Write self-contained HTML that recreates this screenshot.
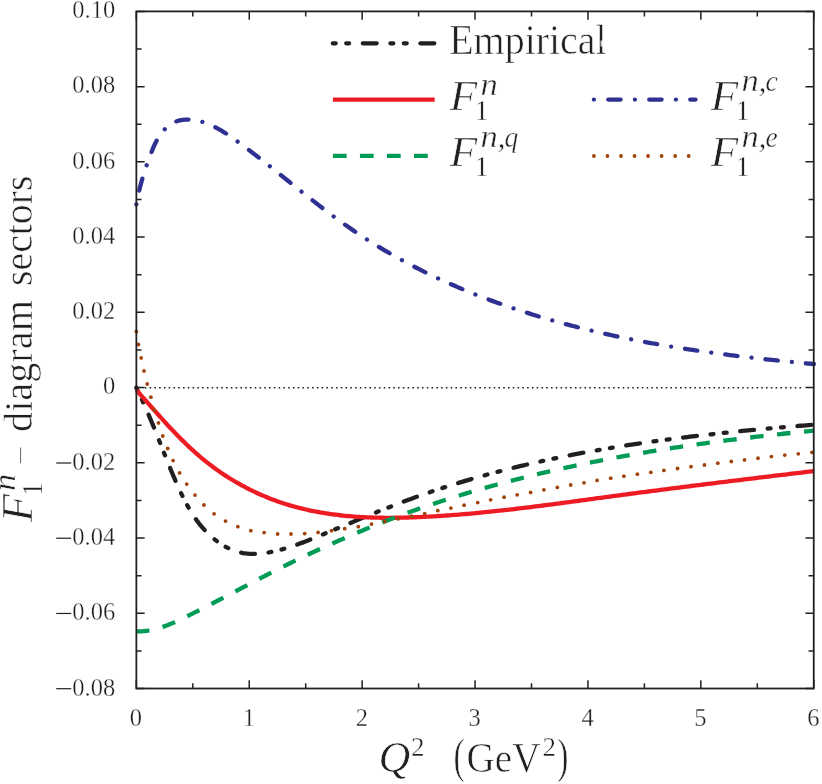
<!DOCTYPE html>
<html lang="en">
<head>
<meta charset="utf-8">
<title>F1n diagram sectors</title>
<style>
html,body{margin:0;padding:0;background:#fff;}
body{width:822px;height:784px;overflow:hidden;font-family:"Liberation Serif",serif;}
svg{display:block;will-change:transform;}
</style>
</head>
<body>
<svg width="822" height="784" viewBox="0 0 822 784">
<rect width="822" height="784" fill="#fff"/>
<line x1="144.77" y1="387.72" x2="801.3" y2="387.72" stroke="#231f20" stroke-width="1.6" stroke-dasharray="1.6 3.179"/>
<path d="M136.35,387.70 L137.52,390.13 L138.67,392.56 L139.81,394.99 L140.94,397.42 L142.05,399.85 L143.15,402.28 L144.24,404.71 L145.31,407.14 L146.38,409.57 L147.43,412.01 L148.48,414.44 L149.51,416.87 L150.53,419.30 L151.55,421.73 L152.56,424.17 L153.56,426.60 L154.55,429.04 L155.53,431.47 L156.51,433.91 L157.48,436.35 L158.45,438.78 L159.42,441.22 L160.38,443.66 L161.35,446.10 L162.31,448.54 L163.28,450.99 L164.25,453.43 L165.22,455.87 L166.19,458.32 L167.17,460.77 L168.15,463.22 L169.15,465.67 L170.15,468.12 L171.16,470.57 L172.18,473.03 L173.21,475.48 L174.25,477.94 L175.30,480.40 L176.37,482.86 L177.46,485.32 L178.56,487.78 L179.68,490.23 L180.83,492.68 L181.99,495.12 L183.19,497.54 L184.41,499.95 L185.65,502.34 L186.94,504.72 L188.25,507.07 L189.60,509.40 L190.98,511.71 L192.41,513.98 L193.87,516.23 L195.38,518.44 L196.93,520.62 L198.53,522.75 L200.17,524.85 L201.87,526.91 L203.62,528.92 L205.42,530.89 L207.28,532.80 L209.19,534.66 L211.16,536.47 L213.17,538.20 L215.23,539.88 L217.34,541.48 L219.49,543.00 L221.69,544.44 L223.92,545.79 L226.20,547.06 L228.51,548.23 L230.86,549.30 L233.24,550.27 L235.65,551.13 L238.10,551.88 L240.57,552.51 L243.07,553.01 L245.59,553.40 L248.13,553.68 L250.69,553.84 L253.27,553.90 L255.86,553.87 L258.47,553.74 L261.08,553.53 L263.70,553.23 L266.32,552.86 L268.95,552.42 L271.57,551.92 L274.19,551.36 L276.81,550.74 L279.42,550.08 L282.01,549.37 L284.60,548.63 L287.17,547.86 L289.72,547.05 L292.27,546.22 L294.80,545.36 L297.33,544.47 L299.84,543.56 L302.35,542.63 L304.85,541.69 L307.34,540.72 L309.83,539.74 L312.31,538.75 L314.78,537.74 L317.26,536.73 L319.72,535.71 L322.19,534.69 L324.65,533.66 L327.12,532.64 L329.58,531.61 L332.04,530.59 L334.50,529.56 L336.96,528.53 L339.42,527.51 L341.88,526.48 L344.34,525.45 L346.80,524.43 L349.26,523.41 L351.72,522.39 L354.18,521.37 L356.64,520.35 L359.10,519.33 L361.56,518.32 L364.01,517.31 L366.48,516.30 L368.94,515.30 L371.40,514.30 L373.86,513.30 L376.32,512.31 L378.79,511.32 L381.25,510.33 L383.72,509.35 L386.19,508.37 L388.65,507.40 L391.12,506.44 L393.60,505.47 L396.07,504.52 L398.54,503.57 L401.02,502.62 L403.50,501.69 L405.98,500.76 L408.46,499.83 L410.95,498.91 L413.44,498.00 L415.93,497.10 L418.42,496.20 L420.91,495.32 L423.41,494.44 L425.91,493.56 L428.41,492.70 L430.91,491.84 L433.42,490.99 L435.93,490.15 L438.44,489.31 L440.95,488.48 L443.47,487.66 L445.99,486.85 L448.51,486.04 L451.03,485.24 L453.55,484.45 L456.08,483.66 L458.61,482.89 L461.14,482.11 L463.67,481.35 L466.21,480.59 L468.75,479.84 L471.29,479.10 L473.83,478.36 L476.37,477.63 L478.92,476.91 L481.46,476.19 L484.01,475.48 L486.56,474.78 L489.12,474.08 L491.67,473.39 L494.23,472.70 L496.79,472.03 L499.35,471.36 L501.91,470.69 L504.48,470.03 L507.04,469.38 L509.61,468.73 L512.18,468.09 L514.75,467.46 L517.32,466.83 L519.90,466.21 L522.48,465.59 L525.05,464.98 L527.63,464.38 L530.21,463.78 L532.80,463.19 L535.38,462.60 L537.97,462.02 L540.55,461.44 L543.14,460.87 L545.73,460.31 L548.32,459.75 L550.92,459.20 L553.51,458.65 L556.11,458.11 L558.71,457.57 L561.30,457.04 L563.90,456.51 L566.50,455.99 L569.11,455.48 L571.71,454.97 L574.32,454.46 L576.92,453.96 L579.53,453.47 L582.14,452.98 L584.75,452.49 L587.36,452.01 L589.97,451.54 L592.58,451.07 L595.20,450.60 L597.81,450.14 L600.43,449.69 L603.05,449.24 L605.66,448.79 L608.28,448.35 L610.90,447.91 L613.52,447.48 L616.15,447.05 L618.77,446.63 L621.39,446.21 L624.02,445.79 L626.64,445.38 L629.27,444.97 L631.90,444.57 L634.52,444.17 L637.15,443.78 L639.78,443.39 L642.41,443.01 L645.04,442.62 L647.67,442.25 L650.31,441.87 L652.94,441.50 L655.57,441.14 L658.21,440.78 L660.84,440.42 L663.48,440.06 L666.11,439.71 L668.75,439.37 L671.38,439.02 L674.02,438.68 L676.66,438.35 L679.30,438.01 L681.93,437.68 L684.57,437.36 L687.21,437.03 L689.85,436.72 L692.49,436.40 L695.13,436.09 L697.77,435.78 L700.41,435.47 L703.05,435.17 L705.69,434.87 L708.33,434.57 L710.97,434.28 L713.62,433.99 L716.26,433.70 L718.90,433.41 L721.54,433.13 L724.18,432.85 L726.82,432.57 L729.47,432.30 L732.11,432.03 L734.75,431.76 L737.39,431.49 L740.03,431.23 L742.67,430.97 L745.32,430.71 L747.96,430.45 L750.60,430.20 L753.24,429.94 L755.88,429.69 L758.52,429.45 L761.16,429.20 L763.80,428.96 L766.44,428.72 L769.08,428.48 L771.72,428.24 L774.36,428.01 L777.00,427.78 L779.64,427.54 L782.28,427.32 L784.92,427.09 L787.55,426.86 L790.19,426.64 L792.83,426.42 L795.46,426.20 L798.10,425.98 L800.73,425.76 L803.37,425.55 L806.00,425.33 L808.63,425.12 L811.27,424.91 L813.90,424.70" fill="none" stroke="#231f20" stroke-width="4.3" stroke-linecap="round" stroke-dasharray="2.9 10.42 2.9 13.665 13.9 13.665" stroke-dashoffset="0.17"/>
<path d="M136.40,390.20 L138.03,392.00 L139.66,393.81 L141.28,395.61 L142.89,397.42 L144.51,399.24 L146.12,401.05 L147.73,402.86 L149.33,404.67 L150.94,406.49 L152.55,408.30 L154.15,410.11 L155.76,411.91 L157.37,413.72 L158.98,415.52 L160.60,417.32 L162.22,419.11 L163.84,420.90 L165.47,422.69 L167.10,424.47 L168.74,426.24 L170.39,428.00 L172.04,429.76 L173.70,431.51 L175.37,433.26 L177.05,434.99 L178.74,436.71 L180.43,438.43 L182.14,440.13 L183.86,441.83 L185.59,443.51 L187.32,445.18 L189.07,446.84 L190.84,448.48 L192.61,450.11 L194.40,451.73 L196.20,453.33 L198.02,454.92 L199.84,456.50 L201.69,458.05 L203.55,459.59 L205.42,461.12 L207.31,462.62 L209.22,464.11 L211.14,465.58 L213.08,467.03 L215.04,468.46 L217.01,469.88 L218.99,471.27 L220.99,472.65 L223.00,474.01 L225.03,475.34 L227.07,476.66 L229.13,477.96 L231.20,479.24 L233.28,480.49 L235.37,481.73 L237.48,482.95 L239.59,484.15 L241.72,485.32 L243.86,486.48 L246.01,487.61 L248.17,488.72 L250.34,489.81 L252.52,490.88 L254.71,491.93 L256.91,492.95 L259.12,493.96 L261.34,494.94 L263.56,495.90 L265.80,496.83 L268.04,497.75 L270.28,498.64 L272.54,499.50 L274.80,500.35 L277.07,501.17 L279.34,501.97 L281.62,502.74 L283.90,503.49 L286.19,504.22 L288.49,504.92 L290.79,505.60 L293.09,506.26 L295.40,506.90 L297.72,507.52 L300.04,508.11 L302.37,508.69 L304.70,509.24 L307.03,509.77 L309.37,510.29 L311.71,510.78 L314.06,511.25 L316.41,511.71 L318.77,512.14 L321.13,512.56 L323.49,512.96 L325.86,513.34 L328.23,513.70 L330.60,514.05 L332.98,514.38 L335.36,514.69 L337.75,514.98 L340.14,515.26 L342.53,515.52 L344.92,515.77 L347.32,516.00 L349.72,516.21 L352.12,516.41 L354.52,516.60 L356.93,516.77 L359.34,516.92 L361.75,517.07 L364.16,517.20 L366.57,517.31 L368.99,517.41 L371.41,517.50 L373.83,517.58 L376.25,517.65 L378.67,517.70 L381.10,517.74 L383.52,517.77 L385.95,517.79 L388.38,517.80 L390.81,517.80 L393.24,517.79 L395.67,517.77 L398.10,517.73 L400.53,517.69 L402.96,517.64 L405.39,517.59 L407.82,517.52 L410.25,517.44 L412.69,517.36 L415.12,517.27 L417.55,517.17 L419.98,517.07 L422.41,516.95 L424.84,516.84 L427.27,516.71 L429.70,516.58 L432.13,516.44 L434.55,516.30 L436.98,516.15 L439.40,516.00 L441.83,515.84 L444.25,515.68 L446.67,515.51 L449.10,515.34 L451.52,515.16 L453.94,514.98 L456.36,514.79 L458.78,514.59 L461.19,514.40 L463.61,514.19 L466.03,513.99 L468.44,513.77 L470.86,513.56 L473.27,513.34 L475.69,513.12 L478.10,512.89 L480.51,512.65 L482.92,512.42 L485.34,512.18 L487.75,511.94 L490.16,511.69 L492.57,511.44 L494.97,511.18 L497.38,510.93 L499.79,510.66 L502.20,510.40 L504.60,510.13 L507.01,509.86 L509.41,509.59 L511.82,509.31 L514.22,509.03 L516.63,508.75 L519.03,508.47 L521.43,508.18 L523.83,507.89 L526.23,507.60 L528.64,507.31 L531.04,507.01 L533.44,506.71 L535.84,506.41 L538.24,506.11 L540.63,505.80 L543.03,505.50 L545.43,505.19 L547.83,504.88 L550.23,504.57 L552.62,504.26 L555.02,503.94 L557.42,503.63 L559.81,503.31 L562.21,503.00 L564.60,502.68 L567.00,502.36 L569.39,502.04 L571.79,501.72 L574.18,501.40 L576.57,501.07 L578.97,500.75 L581.36,500.43 L583.75,500.11 L586.15,499.78 L588.54,499.46 L590.93,499.13 L593.32,498.81 L595.72,498.49 L598.11,498.16 L600.50,497.84 L602.89,497.52 L605.28,497.19 L607.67,496.87 L610.06,496.55 L612.46,496.23 L614.85,495.91 L617.24,495.59 L619.63,495.27 L622.02,494.95 L624.41,494.63 L626.80,494.32 L629.19,494.00 L631.58,493.69 L633.97,493.37 L636.36,493.06 L638.75,492.74 L641.14,492.43 L643.53,492.12 L645.92,491.81 L648.31,491.50 L650.70,491.19 L653.09,490.88 L655.48,490.57 L657.87,490.26 L660.27,489.95 L662.66,489.64 L665.05,489.34 L667.44,489.03 L669.83,488.72 L672.22,488.42 L674.61,488.11 L677.00,487.81 L679.39,487.51 L681.79,487.20 L684.18,486.90 L686.57,486.60 L688.96,486.30 L691.36,486.00 L693.75,485.69 L696.14,485.39 L698.54,485.09 L700.93,484.80 L703.32,484.50 L705.72,484.20 L708.11,483.90 L710.51,483.60 L712.90,483.31 L715.30,483.01 L717.69,482.71 L720.09,482.42 L722.49,482.12 L724.88,481.83 L727.28,481.53 L729.68,481.24 L732.07,480.94 L734.47,480.65 L736.87,480.35 L739.27,480.06 L741.67,479.77 L744.07,479.48 L746.47,479.18 L748.87,478.89 L751.27,478.60 L753.67,478.31 L756.08,478.02 L758.48,477.73 L760.88,477.44 L763.29,477.15 L765.69,476.86 L768.09,476.57 L770.50,476.28 L772.91,475.99 L775.31,475.70 L777.72,475.41 L780.13,475.12 L782.54,474.83 L784.94,474.55 L787.35,474.26 L789.76,473.97 L792.17,473.68 L794.59,473.39 L797.00,473.11 L799.41,472.82 L801.82,472.53 L804.24,472.25 L806.65,471.96 L809.07,471.67 L811.48,471.39 L813.90,471.10" fill="none" stroke="#ed1c24" stroke-width="4.3"/>
<path d="M136.35,631.30 L138.66,631.37 L140.95,631.34 L143.24,631.22 L145.52,631.01 L147.79,630.71 L150.06,630.33 L152.32,629.87 L154.58,629.34 L156.83,628.75 L159.07,628.09 L161.31,627.38 L163.55,626.62 L165.77,625.80 L168.00,624.95 L170.21,624.05 L172.43,623.12 L174.63,622.16 L176.83,621.18 L179.03,620.18 L181.23,619.15 L183.41,618.11 L185.60,617.05 L187.78,615.98 L189.95,614.89 L192.13,613.80 L194.29,612.70 L196.46,611.60 L198.62,610.49 L200.78,609.39 L202.93,608.28 L205.08,607.18 L207.23,606.07 L209.38,604.97 L211.52,603.86 L213.66,602.75 L215.80,601.64 L217.93,600.53 L220.06,599.41 L222.20,598.30 L224.32,597.18 L226.45,596.07 L228.58,594.95 L230.70,593.84 L232.82,592.72 L234.94,591.60 L237.06,590.49 L239.18,589.37 L241.29,588.26 L243.41,587.14 L245.53,586.03 L247.64,584.92 L249.76,583.81 L251.87,582.70 L253.98,581.59 L256.10,580.48 L258.21,579.38 L260.32,578.28 L262.44,577.18 L264.55,576.08 L266.67,574.99 L268.78,573.90 L270.90,572.81 L273.01,571.73 L275.13,570.65 L277.25,569.57 L279.37,568.50 L281.49,567.43 L283.62,566.37 L285.74,565.31 L287.87,564.25 L290.00,563.20 L292.13,562.15 L294.26,561.11 L296.40,560.08 L298.54,559.05 L300.68,558.02 L302.82,557.01 L304.96,555.99 L307.11,554.98 L309.26,553.98 L311.41,552.98 L313.57,551.98 L315.72,550.99 L317.88,550.00 L320.04,549.02 L322.20,548.04 L324.37,547.06 L326.54,546.09 L328.71,545.12 L330.88,544.16 L333.05,543.19 L335.23,542.23 L337.41,541.28 L339.59,540.32 L341.77,539.37 L343.96,538.42 L346.15,537.47 L348.33,536.52 L350.53,535.58 L352.72,534.64 L354.92,533.70 L357.11,532.76 L359.31,531.83 L361.51,530.90 L363.72,529.98 L365.92,529.06 L368.13,528.14 L370.34,527.23 L372.55,526.32 L374.76,525.42 L376.98,524.53 L379.20,523.63 L381.42,522.75 L383.64,521.87 L385.86,521.00 L388.08,520.13 L390.31,519.27 L392.54,518.41 L394.77,517.56 L397.00,516.72 L399.24,515.88 L401.47,515.04 L403.71,514.22 L405.95,513.39 L408.19,512.58 L410.43,511.77 L412.67,510.96 L414.92,510.16 L417.17,509.37 L419.42,508.58 L421.67,507.79 L423.92,507.02 L426.17,506.24 L428.43,505.47 L430.69,504.71 L432.95,503.95 L435.21,503.20 L437.47,502.45 L439.73,501.71 L442.00,500.97 L444.26,500.24 L446.53,499.51 L448.80,498.78 L451.07,498.06 L453.35,497.35 L455.62,496.64 L457.89,495.93 L460.17,495.23 L462.45,494.54 L464.73,493.85 L467.01,493.16 L469.29,492.48 L471.58,491.80 L473.86,491.13 L476.15,490.46 L478.44,489.79 L480.72,489.13 L483.01,488.47 L485.31,487.82 L487.60,487.17 L489.89,486.53 L492.19,485.89 L494.49,485.26 L496.78,484.63 L499.08,484.00 L501.38,483.38 L503.68,482.76 L505.99,482.15 L508.29,481.54 L510.60,480.93 L512.90,480.33 L515.21,479.74 L517.52,479.14 L519.83,478.55 L522.14,477.97 L524.45,477.39 L526.77,476.81 L529.08,476.24 L531.40,475.67 L533.71,475.11 L536.03,474.54 L538.35,473.99 L540.67,473.43 L542.99,472.88 L545.31,472.34 L547.63,471.80 L549.96,471.26 L552.28,470.73 L554.61,470.20 L556.93,469.67 L559.26,469.15 L561.59,468.63 L563.92,468.11 L566.25,467.60 L568.58,467.09 L570.91,466.59 L573.24,466.09 L575.58,465.59 L577.91,465.10 L580.25,464.61 L582.58,464.12 L584.92,463.64 L587.26,463.16 L589.60,462.69 L591.94,462.21 L594.28,461.74 L596.62,461.28 L598.96,460.82 L601.30,460.36 L603.65,459.90 L605.99,459.45 L608.34,459.01 L610.68,458.56 L613.03,458.12 L615.38,457.68 L617.72,457.25 L620.07,456.81 L622.42,456.39 L624.77,455.96 L627.12,455.54 L629.47,455.12 L631.82,454.70 L634.18,454.29 L636.53,453.88 L638.88,453.48 L641.24,453.07 L643.59,452.67 L645.95,452.28 L648.30,451.88 L650.66,451.49 L653.02,451.10 L655.37,450.72 L657.73,450.34 L660.09,449.96 L662.45,449.58 L664.81,449.21 L667.17,448.84 L669.53,448.47 L671.89,448.11 L674.25,447.74 L676.61,447.38 L678.97,447.03 L681.33,446.67 L683.70,446.32 L686.06,445.98 L688.42,445.63 L690.78,445.29 L693.15,444.95 L695.51,444.61 L697.88,444.27 L700.24,443.94 L702.61,443.61 L704.97,443.28 L707.34,442.96 L709.70,442.64 L712.07,442.32 L714.44,442.00 L716.80,441.68 L719.17,441.37 L721.54,441.06 L723.90,440.75 L726.27,440.45 L728.64,440.15 L731.01,439.84 L733.38,439.55 L735.74,439.25 L738.11,438.96 L740.48,438.66 L742.85,438.37 L745.22,438.09 L747.59,437.80 L749.95,437.52 L752.32,437.24 L754.69,436.96 L757.06,436.68 L759.43,436.41 L761.80,436.13 L764.17,435.86 L766.54,435.59 L768.91,435.33 L771.27,435.06 L773.64,434.80 L776.01,434.54 L778.38,434.28 L780.75,434.02 L783.12,433.76 L785.49,433.51 L787.86,433.26 L790.22,433.01 L792.59,432.76 L794.96,432.51 L797.33,432.27 L799.70,432.03 L802.06,431.78 L804.43,431.54 L806.80,431.30 L809.17,431.07 L811.53,430.83 L813.90,430.60" fill="none" stroke="#009b55" stroke-width="4.3" stroke-dasharray="13.45 13.6" stroke-dashoffset="0.35"/>
<path d="M136.35,204.40 L136.84,201.73 L137.36,199.08 L137.90,196.46 L138.46,193.85 L139.05,191.26 L139.66,188.70 L140.30,186.14 L140.96,183.61 L141.65,181.08 L142.36,178.56 L143.10,176.06 L143.86,173.56 L144.64,171.07 L145.46,168.58 L146.29,166.10 L147.16,163.62 L148.04,161.14 L148.96,158.66 L149.90,156.17 L150.86,153.68 L151.85,151.19 L152.88,148.69 L153.95,146.20 L155.08,143.74 L156.28,141.32 L157.57,138.94 L158.96,136.62 L160.46,134.37 L162.09,132.21 L163.86,130.15 L165.78,128.19 L167.86,126.36 L170.07,124.70 L172.39,123.23 L174.80,122.00 L177.29,121.02 L179.83,120.32 L182.41,119.86 L185.00,119.61 L187.58,119.54 L190.13,119.61 L192.67,119.82 L195.18,120.16 L197.67,120.63 L200.13,121.21 L202.58,121.90 L205.00,122.70 L207.41,123.60 L209.79,124.59 L212.16,125.66 L214.50,126.81 L216.83,128.04 L219.15,129.33 L221.44,130.67 L223.72,132.08 L225.98,133.53 L228.23,135.01 L230.47,136.54 L232.69,138.09 L234.90,139.65 L237.09,141.24 L239.28,142.83 L241.45,144.43 L243.61,146.03 L245.76,147.64 L247.91,149.25 L250.04,150.87 L252.17,152.49 L254.28,154.12 L256.39,155.75 L258.50,157.38 L260.60,159.02 L262.69,160.66 L264.78,162.30 L266.86,163.95 L268.94,165.59 L271.02,167.24 L273.10,168.90 L275.17,170.55 L277.24,172.21 L279.31,173.86 L281.38,175.52 L283.45,177.18 L285.52,178.83 L287.58,180.49 L289.65,182.15 L291.71,183.80 L293.78,185.46 L295.84,187.11 L297.91,188.76 L299.98,190.41 L302.05,192.06 L304.12,193.70 L306.19,195.35 L308.27,196.98 L310.34,198.62 L312.42,200.25 L314.51,201.88 L316.59,203.50 L318.68,205.12 L320.77,206.73 L322.87,208.34 L324.97,209.94 L327.08,211.54 L329.19,213.13 L331.30,214.71 L333.42,216.28 L335.55,217.85 L337.68,219.42 L339.82,220.97 L341.96,222.51 L344.11,224.05 L346.27,225.58 L348.43,227.10 L350.60,228.61 L352.78,230.11 L354.97,231.60 L357.16,233.08 L359.37,234.55 L361.58,236.01 L363.80,237.46 L366.03,238.90 L368.26,240.33 L370.51,241.75 L372.76,243.16 L375.01,244.56 L377.28,245.95 L379.55,247.32 L381.83,248.69 L384.12,250.05 L386.41,251.40 L388.71,252.73 L391.01,254.06 L393.33,255.38 L395.65,256.68 L397.97,257.98 L400.30,259.26 L402.64,260.54 L404.98,261.81 L407.33,263.06 L409.68,264.31 L412.04,265.54 L414.40,266.77 L416.77,267.99 L419.14,269.19 L421.52,270.39 L423.90,271.57 L426.29,272.75 L428.68,273.91 L431.08,275.07 L433.48,276.22 L435.88,277.35 L438.29,278.48 L440.70,279.60 L443.11,280.70 L445.53,281.80 L447.96,282.89 L450.38,283.96 L452.81,285.03 L455.24,286.09 L457.68,287.14 L460.12,288.18 L462.56,289.21 L465.01,290.23 L467.46,291.24 L469.91,292.24 L472.37,293.24 L474.83,294.22 L477.29,295.20 L479.76,296.16 L482.23,297.12 L484.70,298.07 L487.18,299.01 L489.66,299.94 L492.14,300.86 L494.62,301.77 L497.11,302.67 L499.60,303.57 L502.10,304.46 L504.59,305.33 L507.09,306.20 L509.60,307.07 L512.10,307.92 L514.61,308.76 L517.12,309.60 L519.64,310.43 L522.15,311.25 L524.67,312.06 L527.19,312.87 L529.72,313.66 L532.25,314.45 L534.78,315.23 L537.31,316.00 L539.84,316.77 L542.38,317.52 L544.92,318.27 L547.46,319.01 L550.00,319.75 L552.55,320.47 L555.10,321.19 L557.65,321.91 L560.21,322.61 L562.76,323.31 L565.32,324.00 L567.88,324.68 L570.44,325.35 L573.01,326.02 L575.57,326.68 L578.14,327.34 L580.71,327.98 L583.28,328.62 L585.86,329.26 L588.43,329.88 L591.01,330.50 L593.59,331.12 L596.18,331.72 L598.76,332.32 L601.34,332.92 L603.93,333.50 L606.52,334.08 L609.11,334.66 L611.70,335.23 L614.30,335.79 L616.89,336.34 L619.49,336.89 L622.09,337.43 L624.69,337.97 L627.29,338.50 L629.89,339.03 L632.50,339.54 L635.10,340.06 L637.71,340.56 L640.32,341.07 L642.93,341.56 L645.54,342.05 L648.15,342.54 L650.77,343.01 L653.38,343.49 L656.00,343.96 L658.61,344.42 L661.23,344.88 L663.85,345.33 L666.47,345.77 L669.09,346.21 L671.71,346.65 L674.34,347.08 L676.96,347.51 L679.59,347.93 L682.21,348.35 L684.84,348.76 L687.47,349.16 L690.09,349.56 L692.72,349.96 L695.35,350.35 L697.98,350.74 L700.61,351.12 L703.24,351.50 L705.88,351.88 L708.51,352.25 L711.14,352.61 L713.77,352.97 L716.41,353.33 L719.04,353.68 L721.68,354.03 L724.31,354.37 L726.95,354.71 L729.58,355.05 L732.22,355.38 L734.85,355.71 L737.49,356.03 L740.13,356.36 L742.76,356.67 L745.40,356.99 L748.04,357.29 L750.67,357.60 L753.31,357.90 L755.95,358.20 L758.59,358.50 L761.22,358.79 L763.86,359.08 L766.50,359.36 L769.13,359.65 L771.77,359.92 L774.40,360.20 L777.04,360.47 L779.68,360.74 L782.31,361.01 L784.95,361.27 L787.58,361.54 L790.21,361.79 L792.85,362.05 L795.48,362.30 L798.11,362.55 L800.75,362.80 L803.38,363.04 L806.01,363.29 L808.64,363.53 L811.27,363.76 L813.90,364.00" fill="none" stroke="#2e3192" stroke-width="4.3" stroke-linecap="round" stroke-dasharray="0.01 14.09 12.4 14.08"/>
<g fill="#a1430b">
<circle cx="136.35" cy="331.50" r="1.9"/>
<circle cx="138.40" cy="344.50" r="1.9"/>
<circle cx="141.20" cy="357.90" r="1.9"/>
<circle cx="144.00" cy="371.00" r="1.9"/>
<circle cx="147.20" cy="384.00" r="1.9"/>
<circle cx="150.85" cy="397.20" r="1.9"/>
<circle cx="154.20" cy="410.25" r="1.9"/>
<circle cx="158.50" cy="422.90" r="1.9"/>
<circle cx="162.80" cy="436.00" r="1.9"/>
<circle cx="167.70" cy="448.50" r="1.9"/>
<circle cx="173.10" cy="460.60" r="1.9"/>
<circle cx="179.60" cy="472.90" r="1.9"/>
<circle cx="186.70" cy="484.10" r="1.9"/>
<circle cx="195.00" cy="495.05" r="1.9"/>
<circle cx="203.90" cy="505.00" r="1.9"/>
<circle cx="214.10" cy="513.80" r="1.9"/>
<circle cx="225.55" cy="521.10" r="1.9"/>
<circle cx="237.85" cy="526.65" r="1.9"/>
<circle cx="250.80" cy="530.65" r="1.9"/>
<circle cx="264.15" cy="532.60" r="1.9"/>
<circle cx="277.60" cy="534.00" r="1.9"/>
<circle cx="291.00" cy="534.00" r="1.9"/>
<circle cx="304.70" cy="533.60" r="1.9"/>
<circle cx="318.10" cy="532.40" r="1.9"/>
<circle cx="331.50" cy="530.65" r="1.9"/>
<circle cx="344.70" cy="528.70" r="1.9"/>
<circle cx="358.30" cy="526.70" r="1.9"/>
<circle cx="371.50" cy="524.10" r="1.9"/>
<circle cx="384.80" cy="521.50" r="1.9"/>
<circle cx="398.20" cy="518.80" r="1.9"/>
<circle cx="411.50" cy="516.20" r="1.9"/>
<circle cx="424.70" cy="513.60" r="1.9"/>
<circle cx="437.80" cy="510.70" r="1.9"/>
<circle cx="450.90" cy="508.10" r="1.9"/>
<circle cx="464.10" cy="505.20" r="1.9"/>
<circle cx="477.70" cy="502.60" r="1.9"/>
<circle cx="490.65" cy="499.85" r="1.9"/>
<circle cx="504.10" cy="497.20" r="1.9"/>
<circle cx="517.20" cy="494.80" r="1.9"/>
<circle cx="530.60" cy="492.40" r="1.9"/>
<circle cx="543.90" cy="489.80" r="1.9"/>
<circle cx="557.30" cy="487.40" r="1.9"/>
<circle cx="570.70" cy="485.00" r="1.9"/>
<circle cx="584.00" cy="482.80" r="1.9"/>
<circle cx="597.10" cy="480.40" r="1.9"/>
<circle cx="610.70" cy="478.20" r="1.9"/>
<circle cx="623.90" cy="476.20" r="1.9"/>
<circle cx="637.40" cy="474.20" r="1.9"/>
<circle cx="650.80" cy="472.35" r="1.9"/>
<circle cx="663.90" cy="470.40" r="1.9"/>
<circle cx="677.50" cy="468.50" r="1.9"/>
<circle cx="691.00" cy="466.70" r="1.9"/>
<circle cx="704.40" cy="465.00" r="1.9"/>
<circle cx="717.80" cy="463.20" r="1.9"/>
<circle cx="731.30" cy="461.50" r="1.9"/>
<circle cx="744.50" cy="459.90" r="1.9"/>
<circle cx="758.00" cy="458.20" r="1.9"/>
<circle cx="771.40" cy="456.60" r="1.9"/>
<circle cx="784.80" cy="455.10" r="1.9"/>
<circle cx="798.30" cy="453.80" r="1.9"/>
<circle cx="811.90" cy="452.30" r="1.9"/>
</g>
<g stroke="#231f20" fill="none" stroke-width="1.5">
<path d="M136.35,688.5 v-8.3 M136.35,11.4 v8.3"/>
<path d="M192.80,688.5 v-5.2 M192.80,11.4 v5.2"/>
<path d="M249.25,688.5 v-8.3 M249.25,11.4 v8.3"/>
<path d="M305.70,688.5 v-5.2 M305.70,11.4 v5.2"/>
<path d="M362.15,688.5 v-8.3 M362.15,11.4 v8.3"/>
<path d="M418.60,688.5 v-5.2 M418.60,11.4 v5.2"/>
<path d="M475.05,688.5 v-8.3 M475.05,11.4 v8.3"/>
<path d="M531.50,688.5 v-5.2 M531.50,11.4 v5.2"/>
<path d="M587.95,688.5 v-8.3 M587.95,11.4 v8.3"/>
<path d="M644.40,688.5 v-5.2 M644.40,11.4 v5.2"/>
<path d="M700.85,688.5 v-8.3 M700.85,11.4 v8.3"/>
<path d="M757.30,688.5 v-5.2 M757.30,11.4 v5.2"/>
<path d="M813.75,688.5 v-8.3 M813.75,11.4 v8.3"/>
<path d="M136.35,11.40 h8.3 M813.75,11.40 h-8.3"/>
<path d="M136.35,49.02 h5.2 M813.75,49.02 h-5.2"/>
<path d="M136.35,86.63 h8.3 M813.75,86.63 h-8.3"/>
<path d="M136.35,124.25 h5.2 M813.75,124.25 h-5.2"/>
<path d="M136.35,161.87 h8.3 M813.75,161.87 h-8.3"/>
<path d="M136.35,199.48 h5.2 M813.75,199.48 h-5.2"/>
<path d="M136.35,237.10 h8.3 M813.75,237.10 h-8.3"/>
<path d="M136.35,274.72 h5.2 M813.75,274.72 h-5.2"/>
<path d="M136.35,312.33 h8.3 M813.75,312.33 h-8.3"/>
<path d="M136.35,349.95 h5.2 M813.75,349.95 h-5.2"/>
<path d="M136.35,387.57 h8.3 M813.75,387.57 h-8.3"/>
<path d="M136.35,425.18 h5.2 M813.75,425.18 h-5.2"/>
<path d="M136.35,462.80 h8.3 M813.75,462.80 h-8.3"/>
<path d="M136.35,500.42 h5.2 M813.75,500.42 h-5.2"/>
<path d="M136.35,538.03 h8.3 M813.75,538.03 h-8.3"/>
<path d="M136.35,575.65 h5.2 M813.75,575.65 h-5.2"/>
<path d="M136.35,613.27 h8.3 M813.75,613.27 h-8.3"/>
<path d="M136.35,650.88 h5.2 M813.75,650.88 h-5.2"/>
<path d="M136.35,688.50 h8.3 M813.75,688.50 h-8.3"/>
</g>
<rect x="136.35" y="11.4" width="677.40" height="677.10" fill="none" stroke="#231f20" stroke-width="1.8"/>
<path d="M330.6,43.3 H437" fill="none" stroke="#231f20" stroke-width="4.3" stroke-linecap="round" stroke-dasharray="2.9 10.5 2.9 13.7 13.9 13.7" stroke-dashoffset="-2.2"/>
<path d="M332.9,99.6 H434.7" stroke="#ed1c24" stroke-width="4.3"/>
<path d="M332.9,155.95 H434.7" stroke="#009b55" stroke-width="4.3" stroke-dasharray="13.7 13.35"/>
<path d="M593.9,99.6 H695.5" stroke="#2e3192" stroke-width="4.3" stroke-linecap="round" stroke-dasharray="0.01 14.3 12.4 14.3"/>
<g fill="#a1430b">
<circle cx="593.90" cy="156.0" r="1.9"/>
<circle cx="607.44" cy="156.0" r="1.9"/>
<circle cx="620.98" cy="156.0" r="1.9"/>
<circle cx="634.52" cy="156.0" r="1.9"/>
<circle cx="648.06" cy="156.0" r="1.9"/>
<circle cx="661.60" cy="156.0" r="1.9"/>
<circle cx="675.14" cy="156.0" r="1.9"/>
<circle cx="688.68" cy="156.0" r="1.9"/>
</g>
<g font-family="'Liberation Serif', serif" fill="#231f20" stroke="#fff" stroke-width="0.6">
<text x="115.2" y="17.90" font-size="24.5" text-anchor="end" stroke-width="0.3">0.10</text>
<text x="115.2" y="93.20" font-size="24.5" text-anchor="end" stroke-width="0.3">0.08</text>
<text x="115.2" y="168.51" font-size="24.5" text-anchor="end" stroke-width="0.3">0.06</text>
<text x="115.2" y="243.81" font-size="24.5" text-anchor="end" stroke-width="0.3">0.04</text>
<text x="115.2" y="319.11" font-size="24.5" text-anchor="end" stroke-width="0.3">0.02</text>
<text x="115.2" y="394.42" font-size="24.5" text-anchor="end" stroke-width="0.3">0</text>
<text x="115.2" y="469.72" font-size="24.5" text-anchor="end" stroke-width="0.3">0.02</text>
<path d="M56.2,463.00 h15" stroke="#231f20" stroke-width="1.2"/>
<text x="115.2" y="545.02" font-size="24.5" text-anchor="end" stroke-width="0.3">0.04</text>
<path d="M56.2,538.23 h15" stroke="#231f20" stroke-width="1.2"/>
<text x="115.2" y="620.33" font-size="24.5" text-anchor="end" stroke-width="0.3">0.06</text>
<path d="M56.2,613.47 h15" stroke="#231f20" stroke-width="1.2"/>
<text x="115.2" y="695.63" font-size="24.5" text-anchor="end" stroke-width="0.3">0.08</text>
<path d="M56.2,688.70 h15" stroke="#231f20" stroke-width="1.2"/>
<text x="135.95" y="726" font-size="24.5" text-anchor="middle" stroke-width="0.3">0</text>
<text x="248.85" y="726" font-size="24.5" text-anchor="middle" stroke-width="0.3">1</text>
<text x="361.75" y="726" font-size="24.5" text-anchor="middle" stroke-width="0.3">2</text>
<text x="474.65" y="726" font-size="24.5" text-anchor="middle" stroke-width="0.3">3</text>
<text x="587.55" y="726" font-size="24.5" text-anchor="middle" stroke-width="0.3">4</text>
<text x="700.45" y="726" font-size="24.5" text-anchor="middle" stroke-width="0.3">5</text>
<text x="813.35" y="726" font-size="24.5" text-anchor="middle" stroke-width="0.3">6</text>
<text transform="translate(378.6,772) scale(1.05,1.08)" font-size="42" font-style="italic">Q</text>
<text x="411" y="756" font-size="27" stroke-width="0.4">2</text>
<text transform="translate(453.5,771.5) scale(0.8,1.16)" font-size="42">(</text>
<text x="466.5" y="771.5" font-size="42" textLength="74" lengthAdjust="spacingAndGlyphs">GeV</text>
<text x="542.5" y="756" font-size="27" stroke-width="0.4">2</text>
<text transform="translate(557.3,771.5) scale(0.8,1.16)" font-size="42">)</text>
<g transform="translate(31.5,521.5) rotate(-90)">
<text transform="translate(-0.5,0) scale(1.12,1.08)" font-size="41" font-style="italic">F</text>
<text x="25.2" y="10.2" font-size="28.5" stroke-width="0.4">1</text>
<text transform="translate(30.6,-16.4) scale(1.08,1)" font-size="32" font-style="italic" stroke-width="0.45">n</text>
<path d="M58.4,-10.9 h15.6" stroke="#555" stroke-width="0.9"/>
<text x="89.5" y="0" font-size="41" textLength="132" lengthAdjust="spacingAndGlyphs">diagram</text>
<text x="235.5" y="0" font-size="41" textLength="110.5" lengthAdjust="spacingAndGlyphs">sectors</text>
</g>
<text x="449.2" y="54.3" font-size="41.5" textLength="157.5" lengthAdjust="spacingAndGlyphs">Empirical</text>
<text transform="translate(449.7,109.9) scale(1.1,1.03)" font-size="41" font-style="italic">F</text>
<text x="474.6" y="120.10000000000001" font-size="28.5" stroke-width="0.4">1</text>
<text transform="translate(480.4,95.0) scale(1.08,1)" font-size="32" font-style="italic" stroke-width="0.45">n</text>
<text transform="translate(449.7,166.0) scale(1.1,1.03)" font-size="41" font-style="italic">F</text>
<text x="474.6" y="176.2" font-size="28.5" stroke-width="0.4">1</text>
<text transform="translate(480.4,147.3) scale(1.08,1)" font-size="32" font-style="italic" stroke-width="0.45">n</text>
<text x="497.6" y="147.0" font-size="32" font-style="italic" stroke-width="0.45">,</text>
<text transform="translate(504.6,147.0) scale(0.86,0.95)" font-size="32" font-style="italic" stroke-width="0.45">q</text>
<text transform="translate(710.7,109.9) scale(1.1,1.03)" font-size="41" font-style="italic">F</text>
<text x="735.6" y="120.10000000000001" font-size="28.5" stroke-width="0.4">1</text>
<text transform="translate(741.4,91.2) scale(1.08,1)" font-size="32" font-style="italic" stroke-width="0.45">n</text>
<text x="758.6" y="90.9" font-size="32" font-style="italic" stroke-width="0.45">,</text>
<text transform="translate(765.6,90.9) scale(0.86,0.95)" font-size="32" font-style="italic" stroke-width="0.45">c</text>
<text transform="translate(710.7,166.0) scale(1.1,1.03)" font-size="41" font-style="italic">F</text>
<text x="735.6" y="176.2" font-size="28.5" stroke-width="0.4">1</text>
<text transform="translate(741.4,147.3) scale(1.08,1)" font-size="32" font-style="italic" stroke-width="0.45">n</text>
<text x="758.6" y="147.0" font-size="32" font-style="italic" stroke-width="0.45">,</text>
<text transform="translate(765.6,147.0) scale(0.86,0.95)" font-size="32" font-style="italic" stroke-width="0.45">e</text>
</g>
<rect x="600.5" y="40.5" width="4.5" height="6" fill="#fff" opacity="0.75"/>
</svg>
</body>
</html>
